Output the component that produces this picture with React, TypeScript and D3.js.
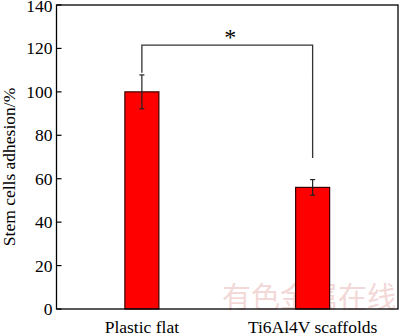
import React from "react";
import * as d3 from "d3";

const categories = ["Plastic flat", "Ti6Al4V scaffolds"];
const means = [100, 56];
const errors = [7.8, 3.6];
const yTicks = [0, 20, 40, 60, 80, 100, 120, 140];
const bracketTop = 121.5;
const bracketLegEnds = [108.8, 69.5];
const sigLabel = "*";
const yLabel = "Stem cells adhesion/%";
const watermark = "有色金属在线";

const W = 400;
const H = 336;
const left = 56.5;
const right = 398;
const top = 5;
const bottom = 309;

export default function App() {
  const y = d3.scaleLinear().domain([0, 140]).range([bottom, top]);
  const x = d3.scalePoint<string>().domain(categories).range([left, right]).padding(0.5);
  const barW = 34;
  const cap = 2.5;
  const font = "'Liberation Serif', 'Times New Roman', serif";
  const xs = categories.map((c) => x(c) as number);

  return (
    <svg width={W} height={H} style={{ position: "absolute", left: 0, top: 0, background: "#fff" }}>
      {/* watermark */}
      <text x={309} y={308} textAnchor="middle" fontFamily="'Noto Sans CJK SC', sans-serif" fontSize={29} fill="#f3d8d8">{watermark}</text>

      {/* bars */}
      {categories.map((c, i) => (
        <rect key={c} x={xs[i] - barW / 2} y={y(means[i])} width={barW} height={y(0) - y(means[i])}
          fill="#ff0000" stroke="#3a0000" strokeWidth={1.2} />
      ))}
      {/* error bars */}
      {categories.map((c, i) => {
        const hi = y(means[i] + errors[i]);
        const lo = y(means[i] - errors[i]);
        return (
          <g key={c + "e"} stroke="#222" strokeWidth={1.2}>
            <line x1={xs[i]} x2={xs[i]} y1={hi} y2={lo} />
            <line x1={xs[i] - cap} x2={xs[i] + cap} y1={hi} y2={hi} />
            <line x1={xs[i] - cap} x2={xs[i] + cap} y1={lo} y2={lo} />
          </g>
        );
      })}
      {/* significance bracket */}
      <path
        d={`M${xs[0]},${y(bracketLegEnds[0])}V${y(bracketTop)}H${xs[1]}V${y(bracketLegEnds[1])}`}
        fill="none" stroke="#333" strokeWidth={1.3} />
      <text x={(xs[0] + xs[1]) / 2 + 3} y={45} textAnchor="middle" fontFamily={font} fontSize={24} fill="#000">{sigLabel}</text>

      {/* frame */}
      <rect x={left} y={top} width={right - left} height={bottom - top} fill="none" stroke="#000" strokeWidth={1.3} />
      {/* y ticks */}
      {yTicks.map((t) => (
        <g key={t}>
          <line x1={left} x2={left + 5} y1={y(t)} y2={y(t)} stroke="#000" strokeWidth={1.2} />
          <text x={left - 4} y={y(t)} dy={t === 140 ? "0.42em" : "0.34em"} textAnchor="end" fontFamily={font} fontSize={17.5} fill="#000">{t}</text>
        </g>
      ))}
      {/* x labels */}
      {categories.map((c, i) => (
        <text key={c + "l"} x={xs[i]} y={333} textAnchor="middle" fontFamily={font} fontSize={17.5} fill="#000">{c}</text>
      ))}
      {/* y label */}
      <text transform={`translate(15,167) rotate(-90)`} textAnchor="middle" fontFamily={font} fontSize={17.5} fill="#000">{yLabel}</text>
    </svg>
  );
}
